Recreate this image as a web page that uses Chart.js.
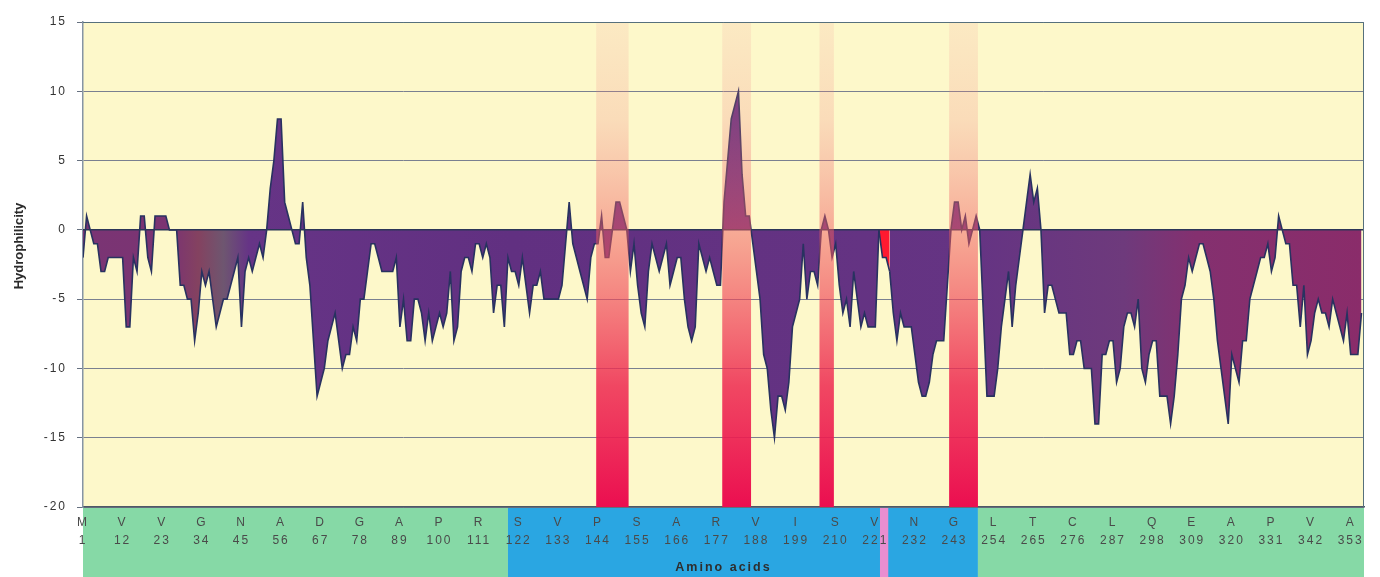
<!DOCTYPE html>
<html lang="en">
<head>
<meta charset="UTF-8">
<title>Hydrophilicity plot</title>
<script src="https://cdn.jsdelivr.net/npm/chart.js@4"></script>
<style>
  html, body { margin: 0; padding: 0; background: #fff; }
  #wrap { width: 1380px; height: 577px; position: relative; }
</style>
</head>
<body>
<div id="wrap"><canvas id="hydro"></canvas></div>
<script>
// hydrophilicity per residue, residue 1..356
const hydro = [
  -2, 1, 0, -1, -1, -3, -3, -2, -2, -2,
  -2, -2, -7, -7, -2, -3, 1, 1, -2, -3,
  1, 1, 1, 1, 0, 0, 0, -4, -4, -5,
  -5, -8, -6, -3, -4, -3, -5, -7, -6, -5,
  -5, -4, -3, -2, -7, -3, -2, -3, -2, -1,
  -2, 0, 3, 5, 8, 8, 2, 1, 0, -1,
  -1, 2, -2, -4, -8, -12, -11, -10, -8, -7,
  -6, -8, -10, -9, -9, -7, -8, -5, -5, -3,
  -1, -1, -2, -3, -3, -3, -3, -2, -7, -5,
  -8, -8, -5, -5, -6, -8, -6, -8, -7, -6,
  -7, -6, -3, -8, -7, -3, -2, -2, -3, -1,
  -1, -2, -1, -2, -6, -4, -4, -7, -2, -3,
  -3, -4, -2, -4, -6, -4, -4, -3, -5, -5,
  -5, -5, -5, -4, -1, 2, -1, -2, -3, -4,
  -5, -2, -1, -1, 1, -2, -2, 0, 2, 2,
  1, 0, -3, -1, -4, -6, -7, -3, -1, -2,
  -3, -2, -1, -4, -3, -2, -2, -5, -7, -8,
  -7, -1, -2, -3, -2, -3, -4, -4, 2, 5,
  8, 9, 10, 4, 1, 1, -1, -3, -5, -9,
  -10, -13, -15, -12, -12, -13, -11, -7, -6, -5,
  -1, -5, -3, -3, -4, 0, 1, 0, -2, -1,
  -4, -6, -5, -7, -3, -5, -7, -6, -7, -7,
  -7, 0, -2, -2, -3, -6, -8, -6, -7, -7,
  -7, -9, -11, -12, -12, -11, -9, -8, -8, -8,
  -4, 0, 2, 2, 0, 1, -1, 0, 1, 0,
  -6, -12, -12, -12, -10, -7, -5, -3, -7, -4,
  -2, 0, 2, 4, 2, 3, 0, -6, -4, -4,
  -5, -6, -6, -6, -9, -9, -8, -8, -10, -10,
  -10, -14, -14, -9, -9, -8, -8, -11, -10, -7,
  -6, -6, -7, -5, -10, -11, -9, -8, -8, -12,
  -12, -12, -14, -12, -9, -5, -4, -2, -3, -2,
  -1, -1, -2, -3, -5, -8, -10, -12, -14, -9,
  -10, -11, -8, -8, -5, -4, -3, -2, -2, -1,
  -3, -2, 1, 0, -1, -1, -4, -4, -7, -4,
  -9, -8, -6, -5, -6, -6, -7, -5, -6, -7,
  -8, -6, -9, -9, -9, -6
];

// x axis labels: residue number and its amino acid
const tickResidues = [1, 12, 23, 34, 45, 56, 67, 78, 89, 100, 111, 122, 133, 144, 155, 166, 177,
  188, 199, 210, 221, 232, 243, 254, 265, 276, 287, 298, 309, 320, 331, 342, 353];
const tickLetters = ['M', 'V', 'V', 'G', 'N', 'A', 'D', 'G', 'A', 'P', 'R', 'S', 'V', 'P', 'S', 'A', 'R',
  'V', 'I', 'S', 'V', 'N', 'G', 'L', 'T', 'C', 'L', 'Q', 'E', 'A', 'P', 'V', 'A'];

// highlighted stretches (first / last residue)
const bandFrom = [144, 179, 206, 242];
const bandTo = [152, 186, 209, 249];

// single hot spot shown in bright red
const hotFrom = [222];
const hotTo = [225];

// domains drawn under the axis
const domainFrom = [0.5, 119, 249.5, 222.3];
const domainTo = [119, 249.5, 357, 224.6];
const domainKind = ['outer', 'core', 'outer', 'hot'];

const DOMAIN_COLORS = { outer: '#86d9a6', core: '#2aa6e2', hot: '#e98ed0' };
const FONT = "'Liberation Sans', Arial, sans-serif";

const points = hydro.map((v, i) => ({ x: i + 1, y: v }));

function isHot(idx) {
  const r = idx + 1;
  return hotFrom.some((f, k) => r >= f && r < hotTo[k]);
}

function fillGradient(context) {
  const chart = context.chart;
  const area = chart.chartArea;
  if (!area) return '#6a3080';
  const x = chart.scales.x;
  const g = chart.ctx.createLinearGradient(area.left, 0, area.right, 0);
  const stop = (r, c) => g.addColorStop(Math.min(1, Math.max(0, (x.getPixelForValue(r) - area.left) / area.width)), c);
  stop(1, '#7a3474');
  stop(26, '#7b3472');
  stop(33, '#844260');
  stop(40, '#6e5670');
  stop(47, '#663486');
  stop(120, '#613081');
  stop(250, '#653483');
  stop(290, '#6e3a7c');
  stop(310, '#84306f');
  stop(356, '#8a2c6a');
  return g;
}

const backdrop = {
  id: 'backdrop',
  beforeDraw(chart) {
    const { ctx, chartArea: a, scales: { x } } = chart;
    ctx.save();
    ctx.fillStyle = '#fdf8ca';
    ctx.fillRect(a.left, a.top, a.width, a.height);
    domainFrom.forEach((f, i) => {
      const x0 = Math.max(a.left, x.getPixelForValue(f));
      const x1 = Math.min(a.right, x.getPixelForValue(domainTo[i]));
      ctx.fillStyle = DOMAIN_COLORS[domainKind[i]];
      ctx.fillRect(x0, a.bottom, x1 - x0, chart.height - a.bottom);
    });
    ctx.restore();
    ctx.letterSpacing = '2px';
  },
  afterDatasetsDraw(chart) {
    const { ctx, chartArea: a, scales: { x, y } } = chart;
    ctx.save();
    // zero line
    const y0 = y.getPixelForValue(0);
    ctx.strokeStyle = '#2c3658';
    ctx.lineWidth = 1.5;
    ctx.beginPath();
    ctx.moveTo(a.left, y0);
    ctx.lineTo(a.right, y0);
    ctx.stroke();
    // highlighted bands
    const g = ctx.createLinearGradient(0, a.top, 0, a.bottom);
    g.addColorStop(0, 'rgba(240,130,140,0.12)');
    g.addColorStop(0.2, 'rgba(240,120,125,0.22)');
    g.addColorStop(0.45, 'rgba(241,90,95,0.52)');
    g.addColorStop(0.75, 'rgba(238,40,80,0.85)');
    g.addColorStop(1, 'rgba(235,14,80,1)');
    ctx.fillStyle = g;
    bandFrom.forEach((f, i) => {
      const x0 = x.getPixelForValue(f - 0.5);
      const x1 = x.getPixelForValue(bandTo[i] + 0.5);
      ctx.fillRect(x0, a.top, x1 - x0, a.height);
    });
    // frame top / right
    ctx.strokeStyle = '#56707c';
    ctx.lineWidth = 1;
    ctx.beginPath();
    ctx.moveTo(a.left, a.top + 0.5);
    ctx.lineTo(a.right - 0.5, a.top + 0.5);
    ctx.lineTo(a.right - 0.5, a.bottom);
    ctx.stroke();
    ctx.restore();
  },
  afterDraw(chart) {
    const { ctx } = chart;
    ctx.letterSpacing = '0px';
    ctx.save();
    ctx.translate(19, 246);
    ctx.rotate(-Math.PI / 2);
    ctx.font = "bold 13px 'Liberation Sans Narrow', 'Liberation Sans', Arial, sans-serif";
    ctx.fillStyle = '#2a2a2a';
    ctx.textAlign = 'center';
    ctx.textBaseline = 'middle';
    ctx.fillText('Hydrophilicity', 0, 0);
    ctx.restore();
  }
};

new Chart(document.getElementById('hydro'), {
  type: 'line',
  data: {
    datasets: [{
      label: 'Hydrophilicity',
      data: points,
      fill: 'origin',
      backgroundColor: fillGradient,
      borderColor: '#283260',
      borderWidth: 1.6,
      pointRadius: 0,
      tension: 0,
      segment: {
        backgroundColor: (ctx) => (isHot(ctx.p0DataIndex) ? '#ff1a30' : undefined)
      }
    }]
  },
  options: {
    responsive: true,
    maintainAspectRatio: false,
    animation: false,
    layout: { padding: { top: 22, right: 16, left: 0, bottom: 0 } },
    plugins: { legend: { display: false }, tooltip: { enabled: false } },
    scales: {
      x: {
        type: 'linear',
        min: 1,
        max: 356.7,
        afterFit: (s) => { s.height = 70; },
        afterBuildTicks: (s) => { s.ticks = tickResidues.map((v) => ({ value: v })); },
        grid: { display: false, drawTicks: false },
        border: { display: true, color: '#4d5966', width: 1.5 },
        ticks: {
          autoSkip: false,
          maxRotation: 0,
          padding: 6,
          color: '#4a4a4a',
          font: { family: FONT, size: 12, lineHeight: 1.55 },
          callback: (v) => {
            const i = tickResidues.indexOf(v);
            return i < 0 ? '' : [tickLetters[i], String(v)];
          }
        },
        title: {
          display: true,
          text: 'Amino acids',
          color: '#2e2e2e',
          font: { family: FONT, size: 12.5, weight: 'bold', lineHeight: 1.2 },
          padding: { top: 0, bottom: 2 }
        }
      },
      y: {
        min: -20,
        max: 15,
        afterFit: (s) => { s.width = 83; },
        grid: { color: '#7a8090', lineWidth: 1, tickLength: 6, tickColor: '#667080' },
        border: { display: true, color: '#8594a4', width: 1.5 },
        ticks: {
          stepSize: 5,
          padding: 10,
          color: '#333',
          font: { family: FONT, size: 12 }
        }
      }
    }
  },
  plugins: [backdrop]
});
</script>
</body>
</html>
